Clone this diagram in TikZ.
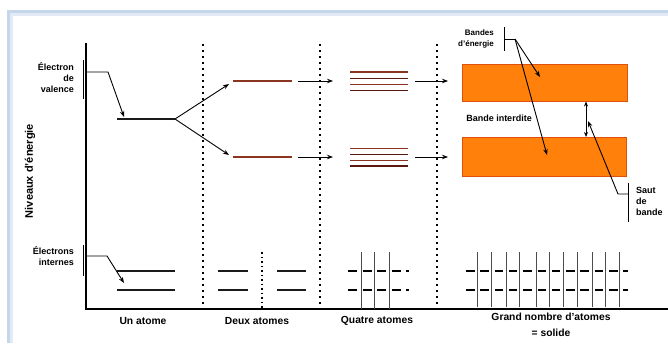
\documentclass[tikz,border=0pt]{standalone}
\usepackage{fontspec}
\setmainfont{Liberation Sans}
\usetikzlibrary{arrows.meta}
\definecolor{frameblue}{HTML}{C5D6EA}
\definecolor{levelc}{HTML}{8A3520}
\definecolor{leveld}{HTML}{5A1A10}
\definecolor{bandfill}{HTML}{FF800A}
\definecolor{bandedge}{HTML}{E0500A}
\definecolor{dark}{HTML}{1A1A1A}
\tikzset{
  lbl/.style={font=\fontsize{9}{11}\selectfont\bfseries, inner sep=0pt},
  smalllbl/.style={font=\fontsize{8}{11}\selectfont\bfseries, inner sep=0pt},
  captxt/.style={font=\fontsize{10.3}{16}\selectfont\bfseries, inner sep=0pt, align=center},
  arr/.style={-{Stealth[length=6pt,width=4.5pt]}, line width=0.9pt},
  dblarr/.style={{Stealth[length=5pt,width=4pt]}-{Stealth[length=5pt,width=4pt]}, line width=0.9pt},
  axisline/.style={line width=1.4pt},
  sepline/.style={line width=1.8pt, dash pattern=on 2pt off 4pt},
  smallsep/.style={line width=1.3pt, dash pattern=on 1.5pt off 3pt},
  lev/.style={line width=1.4pt, levelc},
  levb/.style={line width=1.4pt, leveld},
  inner/.style={line width=1.4pt, dark},
  dashlev/.style={line width=2pt, black},
  bandbox/.style={fill=bandfill, draw=bandedge, line width=1pt},
  brk/.style={line width=1pt},
  conn/.style={line width=0.9pt},
  atomline/.style={line width=1pt, black!70},
}
\begin{document}
\begin{tikzpicture}[x=1pt,y=-1pt]
\useasboundingbox (0,0) rectangle (668,343);
% frame
\fill[white] (0,0) rectangle (668,343);
\fill[frameblue] (7,10) rectangle (668,343);
\fill[frameblue!50] (10,13) rectangle (668,343);
\fill[white] (13,16) rectangle (668,343);

% axes
\coordinate (ytop) at (86,43);
\coordinate (orig) at (86,309);
\coordinate (xend) at (668,309);
\draw[axisline] (ytop) -- (orig) -- (xend);
\node[font=\fontsize{11}{12}\selectfont\bfseries, rotate=90, inner sep=0pt] (ylab) at (30,171) {Niveaux d'énergie};

% separators
\foreach \x/\n in {203/s1,320/s2,437/s3}{
  \coordinate (\n t) at (\x,44);
  \coordinate (\n b) at (\x,309);
  \draw[sepline] (\n t) -- (\n b);
}

% labels left
\node[lbl, align=right, anchor=east] (valence) at (74,78) {Électron\\de\\valence};
\coordinate (vb1) at (83,60); \coordinate (vb2) at (83,99);
\draw[brk] (vb1) -- (vb2);
\coordinate (vh1) at (86,72); \coordinate (vh2) at (108,72); \coordinate (vh3) at (124,117);
\draw[arr] (vh1) -- (vh2) -- (vh3);

\node[lbl, align=right, anchor=east] (internes) at (74,256) {Électrons\\internes};
\coordinate (ib1) at (83,245); \coordinate (ib2) at (83,276);
\draw[brk] (ib1) -- (ib2);
\coordinate (ih1) at (86,256); \coordinate (ih2) at (107,256); \coordinate (ih3) at (124,283);
\draw[arr] (ih1) -- (ih2) -- (ih3);

% one atom
\coordinate (u1) at (117,119); \coordinate (u2) at (175,119);
\draw[line width=1.3pt, dark] (u1) -- (u2);
\coordinate (sp1) at (229,84); \coordinate (sp2) at (229,155);
\draw[arr] (u2) -- (sp1);
\draw[arr] (u2) -- (sp2);
\draw[inner] (117,271) -- (175,271);
\draw[inner] (117,290) -- (175,290);

% two atoms
\coordinate (d1a) at (233,81); \coordinate (d1b) at (292,81);
\coordinate (d2a) at (233,157); \coordinate (d2b) at (292,157);
\draw[lev] (d1a) -- (d1b);
\draw[lev] (d2a) -- (d2b);
\coordinate (a1s) at (298,81); \coordinate (a1e) at (333,81);
\coordinate (a2s) at (298,157); \coordinate (a2e) at (333,157);
\draw[arr] (a1s) -- (a1e);
\draw[arr] (a2s) -- (a2e);
\draw[inner] (218,271) -- (248,271);
\draw[inner] (218,290) -- (248,290);
\draw[inner] (277,271) -- (306,271);
\draw[inner] (277,290) -- (306,290);
\coordinate (dt) at (262,252); \coordinate (db) at (262,309);
\draw[smallsep] (dt) -- (db);

% four atoms
\foreach \y [count=\i] in {72,78.5,84.5,90.5}{
  \ifodd\i \draw[lev] (350,\y) -- (408,\y); \else \draw[levb] (350,\y) -- (408,\y); \fi
}
\foreach \y [count=\i] in {148.5,154.5,160.5,166}{
  \ifodd\i \draw[lev] (350,\y) -- (408,\y); \else \draw[levb] (350,\y) -- (408,\y); \fi
}
\coordinate (b1s) at (415,81); \coordinate (b1e) at (448,81);
\coordinate (b2s) at (415,157); \coordinate (b2e) at (448,157);
\draw[arr] (b1s) -- (b1e);
\draw[arr] (b2s) -- (b2e);
\foreach \x in {361,374,389}{ \draw[atomline] (\x,252) -- (\x,309); }
\draw[dashlev, dash pattern=on 9pt off 5.5pt] (348,271) -- (409,271);
\draw[dashlev, dash pattern=on 9pt off 5.5pt] (348,290) -- (409,290);

% solid
\node[bandbox, minimum width=165pt, minimum height=37pt, inner sep=0pt, anchor=north west] (band1) at (462,64) {};
\node[bandbox, minimum width=164pt, minimum height=39pt, inner sep=0pt, anchor=north west] (band2) at (462,137) {};
\foreach \x in {477,491,506,519,536,549,563,577,592,605,619}{ \draw[atomline] (\x,252) -- (\x,307); }
\draw[dashlev, dash pattern=on 8.5pt off 5.8pt] (466,271) -- (628,271);
\draw[dashlev, dash pattern=on 8.5pt off 5.8pt] (466,290) -- (628,290);

% band labels
\node[smalllbl, align=right, anchor=east] (bandes) at (494,38.5) {Bandes\\d'énergie};
\coordinate (bb1) at (504,27); \coordinate (bb2) at (504,51);
\draw[brk] (bb1) -- (bb2);
\coordinate (bh1) at (504,39); \coordinate (bh2) at (515,39);
\coordinate (bt1) at (540,77); \coordinate (bt2) at (547,155);
\draw[conn] (bh1) -- (bh2);
\draw[arr] (bh2) -- (bt1);
\draw[arr] (bh2) -- (bt2);

\node[lbl] (interdite) at (499,118) {Bande interdite};

\coordinate (g1) at (586,101.5); \coordinate (g2) at (586,137);
\draw[dblarr] (g1) -- (g2);
\coordinate (sa1) at (628,194); \coordinate (sa2) at (618,194); \coordinate (sa3) at (588,121);
\draw[arr] (sa1) -- (sa2) -- (sa3);
\coordinate (sb1) at (628,183); \coordinate (sb2) at (628,222);
\draw[brk] (sb1) -- (sb2);
\node[lbl, align=left, anchor=west] (saut) at (636,201) {Saut\\de\\bande};

% captions
\node[captxt] (c1) at (143,321) {Un atome};
\node[captxt] (c2) at (257,321) {Deux atomes};
\node[captxt] (c3) at (377,321) {Quatre atomes};
\node[captxt] (c4) at (551,325) {Grand nombre d'atomes\\= solide};
\end{tikzpicture}
\end{document}
